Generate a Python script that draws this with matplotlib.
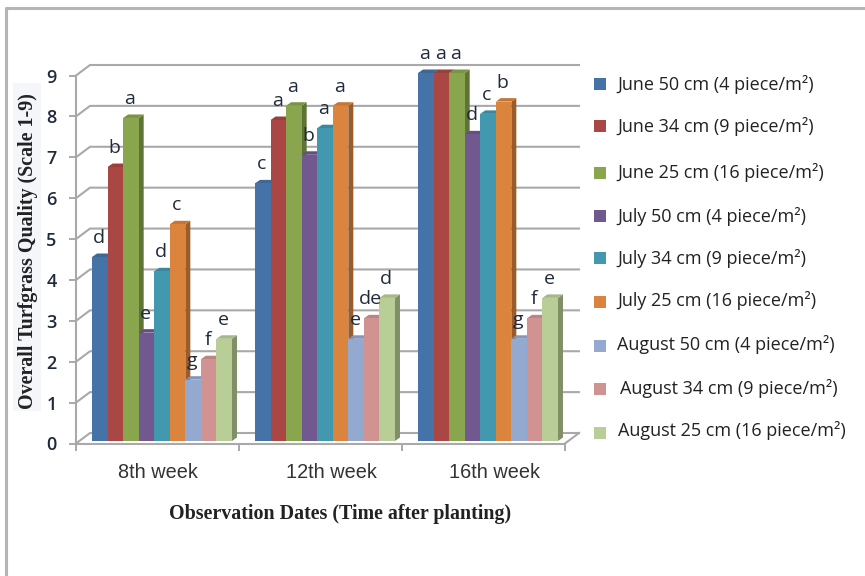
import matplotlib
matplotlib.use("Agg")
import matplotlib.pyplot as plt
from matplotlib.patches import Polygon, Rectangle
from matplotlib.lines import Line2D
from matplotlib.transforms import ScaledTranslation

categories = ["8th week", "12th week", "16th week"]
series_names = ["June 50 cm (4 piece/m²)", "June 34 cm (9 piece/m²)", "June 25 cm (16 piece/m²)",
                "July 50 cm (4 piece/m²)", "July 34 cm (9 piece/m²)", "July 25 cm (16 piece/m²)",
                "August 50 cm (4 piece/m²)", "August 34 cm (9 piece/m²)", "August 25 cm (16 piece/m²)"]
week8 = [4.5, 6.7, 7.9, 2.65, 4.15, 5.3, 1.5, 2.0, 2.5]
week12 = [6.3, 7.85, 8.2, 7.0, 7.65, 8.2, 2.5, 3.0, 3.5]
week16 = [9.0, 9.0, 9.0, 7.5, 8.0, 8.3, 2.5, 3.0, 3.5]
letters8 = ["d", "b", "a", "e", "d", "c", "g", "f", "e"]
letters12 = ["c", "a", "a", "b", "a", "a", "e", "de", "d"]
letters16 = ["a", "a", "a", "d", "c", "b", "g", "f", "e"]
front = ["#4572A7", "#AA4643", "#89A54E", "#71588F", "#4198AF", "#DB843D", "#93A9CF", "#D19392", "#B9CD96"]
side = ["#2F4F75", "#773130", "#5F7336", "#4E3D64", "#2D6A7A", "#995C2A", "#667690", "#926766", "#818F68"]
top = ["#3E6796", "#994038", "#7A9446", "#654F80", "#3A889C", "#C57636", "#8497BA", "#BC8483", "#A6B887"]
legend_y = [84, 126, 173, 216, 258, 301, 345, 388, 431]
legend_tx = [617, 617, 617, 617, 617, 617, 617, 620, 618]
legend_sy = [84, 126, 173, 216, 258, 302, 346, 389, 433]
label_shift = [0, 11, 11]
values = [week8, week12, week16]
letters = [letters8, letters12, letters16]

W, H = 865, 576
fig = plt.figure(figsize=(W / 100, H / 100), dpi=100, facecolor="white")
bg = fig.add_axes([0, 0, 1, 1]); bg.set_xlim(0, W); bg.set_ylim(H, 0); bg.axis("off")

X0, X1, Y0, Y9 = 76, 565, 443.5, 75.5
ax = fig.add_axes([X0 / W, 1 - Y0 / H, (X1 - X0) / W, (Y0 - Y9) / H])
ax.set_xlim(-0.5, 2.5); ax.set_ylim(0, 9); ax.patch.set_alpha(0)
px = 3 / (X1 - X0); py = 9 / (Y0 - Y9)
GREY = "#A9A9A9"

# wall / floor
BDX, BDY = 14 * px, 10.5 * py
for v in range(10):
    ax.plot([-0.5, -0.5 + BDX, 2.5 + BDX], [v, v + BDY, v + BDY], color=GREY, lw=1.5, clip_on=False, zorder=1)
ax.plot([2.5, 2.5 + BDX], [0, BDY], color=GREY, lw=1.5, clip_on=False, zorder=1)

# bars
BX, BY = 4.5 * px, 2.5 * py
bw = 15.55 * px
DX, DY = 5 * px, 3.5 * py
z = 3
for c, vals in enumerate(values):
    for i, v in enumerate(vals):
        xl = c - 4.5 * bw + i * bw + BX
        xr = xl + bw
        b = BY
        t = v + BY
        ax.add_patch(Polygon([(xr, b), (xr + DX, b + DY), (xr + DX, t + DY), (xr, t)], fc=side[i], ec="none", clip_on=False, zorder=z))
        ax.add_patch(Polygon([(xl, t), (xl + DX, t + DY), (xr + DX, t + DY), (xr, t)], fc=top[i], ec="none", clip_on=False, zorder=z))
        ax.bar(xl + bw / 2, v, bw, bottom=b, color=front[i], zorder=z + 0.5, clip_on=False)
        z += 1
for c, vals in enumerate(values):
    for i, v in enumerate(vals):
        xm = c - 4.5 * bw + (i + 0.5) * bw + BX
        ax.annotate(letters[c][i], (xm, v + BY), xytext=(-1, 19), textcoords="offset pixels",
                    ha="center", va="center", fontsize=14, color="#1F2A3C", family="Open Sans",
                    annotation_clip=False, zorder=200)

for s in ("top", "right"):
    ax.spines[s].set_visible(False)
for s in ("left", "bottom"):
    ax.spines[s].set_color(GREY); ax.spines[s].set_linewidth(1.5); ax.spines[s].set_zorder(2)
ax.set_yticks(range(10))
ax.set_xticks([0, 1, 2], categories)
ax.set_xticks([-0.5, 0.5, 1.5, 2.5], minor=True)
ax.tick_params(axis="y", length=5, width=1.4, color=GREY, labelsize=13, labelcolor="#1F2A3C", pad=9)
ax.tick_params(axis="x", which="minor", length=5, width=1.4, color=GREY)
ax.tick_params(axis="x", which="major", length=0, labelsize=14.3, labelcolor="#333333", pad=14)
for t in ax.get_yticklabels():
    t.set_fontfamily("Open Sans"); t.set_fontweight("semibold")
for t, dx in zip(ax.get_xticklabels(), label_shift):
    t.set_fontfamily("Liberation Sans")
    t.set_transform(t.get_transform() + ScaledTranslation(dx / 100, 0, fig.dpi_scale_trans))

bg.add_patch(Rectangle((13, 83), 28, 328, fc="#F4F6FA", ec="none"))
bg.text(28, 251, "Overall Turfgrass Quality (Scale 1-9)", rotation=90, ha="center", va="center",
        family="Liberation Serif", fontweight="bold", fontsize=14.4, color="#222222")
bg.text(340, 514, "Observation Dates (Time after planting)", ha="center", va="center",
        family="Liberation Serif", fontweight="bold", fontsize=14.4, color="#222222")

for i, n in enumerate(series_names):
    bg.add_patch(Rectangle((594, legend_sy[i] - 6), 12, 12, fc=front[i], ec="none"))
    bg.text(legend_tx[i], legend_y[i], n, ha="left", va="center", family="Open Sans", fontsize=13, color="#222222")

# page frame
bg.add_line(Line2D([6, 6, 865], [576, 7.5, 7.5], color="#B5B5B5", lw=2.2))

fig.savefig("out.png", dpi=100)
